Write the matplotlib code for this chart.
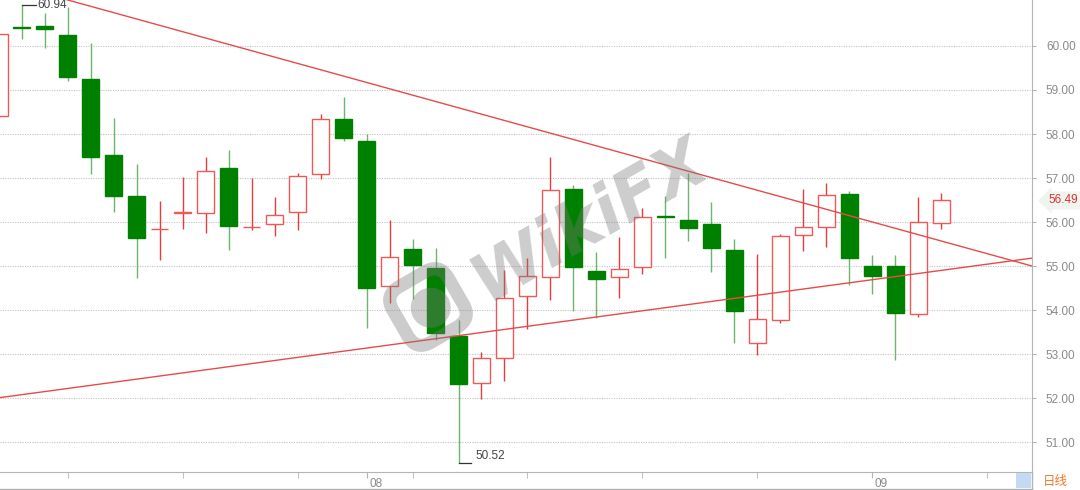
import matplotlib
matplotlib.use('Agg')
import matplotlib.pyplot as plt
import numpy as np
from matplotlib.patches import Rectangle, FancyBboxPatch, Circle
from matplotlib import transforms
from matplotlib.lines import Line2D

# ---------------- data ----------------
opens  = [58.41, 60.43, 60.45, 60.25, 59.26, 57.52, 56.59, 55.84, 56.21, 56.20,
          57.22, 55.88, 55.95, 56.22, 57.09, 58.34, 57.85, 54.55, 55.38, 54.96,
          53.42, 52.35, 52.90, 54.33, 54.74, 56.74, 54.89, 54.76, 54.97, 56.13,
          56.05, 55.95, 55.36, 53.26, 53.77, 55.71, 55.88, 56.64, 55.00, 55.00,
          53.92, 55.97]
highs  = [60.30, 60.94, 60.74, 60.88, 60.06, 58.36, 57.32, 56.48, 57.03, 57.47,
          57.64, 56.99, 56.58, 57.11, 58.45, 58.83, 57.99, 56.05, 55.61, 55.42,
          53.77, 53.05, 54.91, 55.18, 57.47, 56.84, 55.33, 55.67, 56.31, 56.59,
          57.12, 56.46, 55.61, 55.27, 55.73, 56.74, 56.88, 56.70, 55.24, 55.24,
          56.58, 56.65]
lows   = [58.38, 60.15, 59.95, 59.21, 57.08, 56.23, 54.72, 55.14, 55.84, 55.76,
          55.36, 55.83, 55.69, 55.82, 56.97, 57.83, 53.60, 54.17, 54.24, 53.33,
          50.52, 51.98, 52.39, 53.56, 54.23, 53.98, 53.81, 54.27, 54.81, 55.19,
          55.56, 54.86, 53.26, 52.98, 53.71, 55.35, 55.44, 54.58, 54.36, 52.86,
          53.85, 55.84]
closes = [60.27, 60.42, 60.39, 59.30, 57.48, 56.59, 55.64, 55.85, 56.22, 57.17,
          55.91, 55.89, 56.16, 57.05, 58.34, 57.92, 54.49, 55.20, 55.03, 53.47,
          52.33, 52.92, 54.27, 54.78, 56.73, 54.97, 54.70, 54.94, 56.11, 56.12,
          55.86, 55.40, 53.98, 53.80, 55.68, 55.89, 56.61, 55.18, 54.78, 53.94,
          55.99, 56.49]

y_ticks = [51, 52, 53, 54, 55, 56, 57, 58, 59, 60]
y_tick_labels = [f"{v:.2f}" for v in y_ticks]
month_pos = [16, 38]
month_labels = ["08", "09"]
week_ticks = [3, 8, 13, 18, 23, 28, 33, 38, 43]

# trend lines (candle index, price)
upper_x = [2.96, 44.96]
upper_y = [61.05, 55.00]
lower_x = [0.04, 44.96]
lower_y = [52.01, 55.18]

period_label = "日线"
watermark = "WikiFX"

# ---------------- styles ----------------
UP_EDGE = '#f05858'
UP_WICK = '#e63c3c'
DN_FILL = '#008000'
DN_WICK = '#6cb56c'
GRID = '#c4c4c4'
AXC = '#b4b4b4'
LBL = '#8a8a8a'
TICKFONT = 'Liberation Sans'

W, H = 1080, 490
fig = plt.figure(figsize=(W / 100, H / 100), dpi=100)
fig.patch.set_facecolor('white')

ax = fig.add_axes([0, 18 / H, 1032 / W, 472 / H])
ax.set_xlim(0.0435, 44.96)
ax.set_ylim(50.32, 61.045)

o = np.array(opens); h = np.array(highs); l = np.array(lows); c = np.array(closes)
idx = np.arange(len(o))
up = c >= o
dn = ~up
bw = 0.74

# wicks
ax.vlines(idx[up], l[up], h[up], colors=UP_WICK, lw=1.0, zorder=2)
ax.vlines(idx[dn], l[dn], h[dn], colors=DN_WICK, lw=1.0, zorder=2)
# bodies
ax.bar(idx[up], c[up] - o[up], bottom=o[up], width=bw, facecolor='white',
       edgecolor=UP_EDGE, linewidth=1.0, zorder=3)
ax.bar(idx[dn], c[dn] - o[dn], bottom=o[dn], width=bw, facecolor=DN_FILL,
       edgecolor=DN_FILL, linewidth=1.0, zorder=3)

# trend lines
ax.plot(upper_x, upper_y, color='#e84a4a', lw=1.0, zorder=4)
ax.plot(lower_x, lower_y, color='#e84a4a', lw=1.0, zorder=4)

# max / min markers
ih = int(np.argmax(h)); il = int(np.argmin(l))
ax.plot([ih, ih + 0.62], [h[ih], h[ih]], color='#333333', lw=0.9, zorder=5)
ax.text(ih + 0.68, h[ih], f"{h[ih]:.2f}", fontsize=8.5, color='#444444',
        family=TICKFONT, ha='left', va='center', zorder=5)
ax.plot([il, il + 0.55], [l[il], l[il]], color='#333333', lw=0.9, zorder=5)
ax.text(il + 0.72, l[il] + 0.03, f"{l[il]:.2f}", fontsize=8.5, color='#444444',
        family=TICKFONT, ha='left', va='bottom', zorder=5)

# grid and axes
ax.set_yticks(y_ticks)
ax.set_yticklabels(y_tick_labels, family=TICKFONT)
ax.yaxis.tick_right()
ax.grid(axis='y', color=GRID, linestyle=(0, (1, 1.2)), lw=0.8, zorder=1)
ax.tick_params(axis='y', length=3, color=AXC, labelcolor=LBL, labelsize=8.5, pad=7)

ax.set_xticks(month_pos)
ax.set_xticklabels(month_labels, family=TICKFONT)
ax.set_xticks(week_ticks, minor=True)
ax.tick_params(axis='x', which='both', direction='out', length=4, color=AXC,
               labelcolor=LBL, labelsize=8.5, pad=0.5)
off = transforms.ScaledTranslation(2 / 72, 0, fig.dpi_scale_trans)
for lab in ax.get_xticklabels():
    lab.set_ha('left')
    lab.set_transform(lab.get_transform() + off)

for s in ['top', 'left']:
    ax.spines[s].set_visible(False)
ax.spines['right'].set_color(AXC)
ax.spines['bottom'].set_color(AXC)
ax.set_facecolor('white')

# last price label
bt = transforms.blended_transform_factory(ax.transAxes, ax.transData)
ax.text(1.0 + 16 / 1032, c[-1], f"{c[-1]:.2f}", transform=bt, fontsize=8.5,
        family=TICKFONT, color='#e03030', ha='left', va='center', clip_on=False,
        bbox=dict(boxstyle='larrow,pad=0.25', facecolor='#eef5ee', edgecolor='none'))

# overlay in pixel coordinates
ov = fig.add_axes([0, 0, 1, 1], zorder=10)
ov.set_xlim(0, W); ov.set_ylim(H, 0)
ov.axis('off'); ov.patch.set_alpha(0)
ov.add_line(Line2D([1032, 1032], [472, H], color=AXC, lw=1))
ov.add_line(Line2D([0, 1032], [488.5, 488.5], color=AXC, lw=1))
ov.add_patch(Rectangle((1016, 473), 15, 15, facecolor='#c4d9f3', edgecolor='none'))
ov.text(1055, 481, period_label, ha='center', va='center', color='#f07a2a', fontsize=9,
        family=['Noto Sans CJK SC', 'DejaVu Sans'])

# watermark
wm_col = '#7a7a7a'
ov.text(590, 220, watermark, rotation=30, ha='center', va='center', fontsize=48,
        fontweight='bold', fontstyle='italic', color=wm_col, alpha=0.38,
        family='DejaVu Sans')
tr = transforms.Affine2D().rotate_deg(-30).translate(428, 307) + ov.transData
ov.add_patch(FancyBboxPatch((-32, -32), 64, 64, boxstyle='round,pad=0,rounding_size=17',
                            facecolor='none', edgecolor=wm_col, lw=9.5, alpha=0.38, transform=tr))
ov.add_patch(Circle((2, 2), 20, facecolor=wm_col, edgecolor='none', alpha=0.38, transform=tr))

fig.savefig('out.png', dpi=100, facecolor='white')
